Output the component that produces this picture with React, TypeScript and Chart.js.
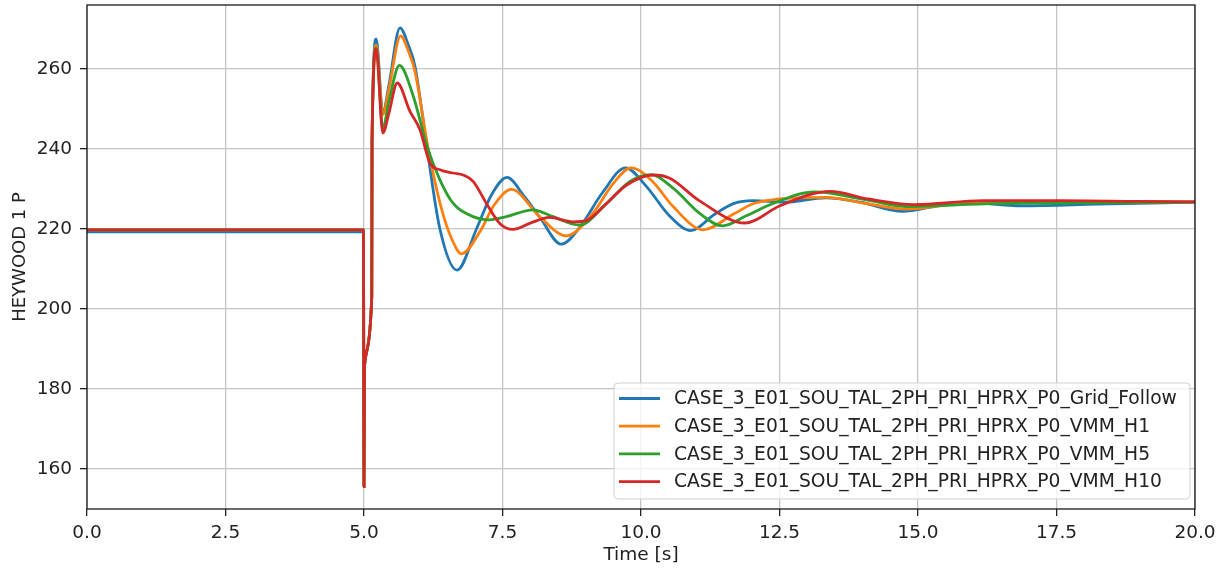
import React, { useEffect, useRef } from "react";
import { Chart, registerables } from "chart.js";

Chart.register(...registerables);

// ---- data ----
const seriesLabels = [
  "CASE_3_E01_SOU_TAL_2PH_PRI_HPRX_P0_Grid_Follow",
  "CASE_3_E01_SOU_TAL_2PH_PRI_HPRX_P0_VMM_H1",
  "CASE_3_E01_SOU_TAL_2PH_PRI_HPRX_P0_VMM_H5",
  "CASE_3_E01_SOU_TAL_2PH_PRI_HPRX_P0_VMM_H10",
];
const seriesColors = ["#1f77b4", "#ff7f0e", "#2ca02c", "#d62728"];

const tGridFollow = [0, 4.99, 5.0, 5.01, 5.14, 5.145, 5.22, 5.34, 5.45, 5.65, 5.8, 5.92, 6.14, 6.37, 6.68, 7.03, 7.3, 7.58, 7.9, 8.17, 8.56, 8.9, 9.3, 9.72, 10.1, 10.5, 10.9, 11.33, 11.68, 12.02, 12.58, 13.34, 13.96, 14.72, 15.35, 15.83, 16.87, 18.25, 20.0];
const pGridFollow = [219.3, 219.3, 155.6, 186, 203, 242, 267.5, 249, 256, 270.3, 266, 260.7, 240, 220, 209.7, 220, 228.5, 232.9, 228, 223, 216.2, 220.5, 229, 235.3, 230.6, 223.5, 219.6, 223.7, 226.4, 227.1, 226.7, 227.8, 226.7, 224.4, 225.8, 226.7, 225.8, 226.2, 226.7];

const tVmmH1 = [0, 4.99, 5.0, 5.01, 5.14, 5.145, 5.22, 5.34, 5.45, 5.66, 5.8, 5.92, 6.16, 6.4, 6.6, 6.76, 7.1, 7.35, 7.66, 8.17, 8.65, 9.13, 9.5, 9.82, 10.2, 10.58, 11.12, 11.68, 12.02, 12.37, 13.34, 14.1, 14.79, 15.83, 17.56, 20.0];
const pVmmH1 = [219.8, 219.8, 155.6, 186, 203, 242, 266, 248.6, 255, 268.3, 264.5, 259.4, 240, 225, 217, 213.8, 219.5, 226, 229.9, 223.1, 218.3, 223.9, 231.4, 235.3, 232, 225.6, 219.8, 223.8, 226.3, 227.3, 227.9, 226.3, 225.0, 226.4, 226.7, 226.8];

const tVmmH5 = [0, 4.99, 5.0, 5.01, 5.14, 5.145, 5.22, 5.34, 5.45, 5.64, 5.89, 6.14, 6.37, 6.61, 6.97, 7.27, 7.57, 8.05, 8.41, 8.89, 9.38, 9.8, 10.18, 10.58, 11.06, 11.47, 11.9, 12.37, 13.13, 14.0, 14.79, 15.5, 16.18, 17.5, 19.0, 20.0];
const pVmmH5 = [219.8, 219.8, 155.6, 186, 203, 242, 265.3, 245.2, 252, 260.9, 253.2, 240.6, 232.3, 226.4, 223.1, 222.3, 223.1, 224.8, 223.1, 221.0, 226.4, 231.9, 233.6, 230.2, 223.9, 220.8, 223.3, 226.3, 229.3, 227.5, 225.6, 225.9, 226.3, 226.5, 226.6, 226.7];

const tVmmH10 = [0, 4.99, 5.0, 5.01, 5.14, 5.145, 5.22, 5.34, 5.45, 5.6, 5.83, 6.01, 6.19, 6.37, 6.61, 6.79, 6.97, 7.21, 7.45, 7.69, 7.99, 8.35, 8.77, 9.01, 9.38, 9.74, 10.22, 10.52, 11.05, 11.88, 12.51, 13.41, 14.1, 14.93, 16.18, 17.56, 19.0, 20.0];
const pVmmH10 = [219.8, 219.8, 155.6, 186, 203, 242, 265, 244, 249, 256.5, 249.4, 244.8, 236.5, 234.8, 234.0, 233.5, 231.9, 226.4, 221.4, 219.9, 221.4, 222.9, 221.8, 222.1, 226.4, 231.0, 233.5, 232.7, 227.1, 221.5, 225.8, 229.4, 227.5, 226.1, 227.1, 227.1, 226.9, 226.8];

const xTickValues = [0, 2.5, 5, 7.5, 10, 12.5, 15, 17.5, 20];
const yTickValues = [160, 180, 200, 220, 240, 260];
const xAxisTitle = "Time [s]";
const yAxisTitle = "HEYWOOD 1 P";

const seriesTimes = [tGridFollow, tVmmH1, tVmmH5, tVmmH10];
const seriesValues = [pGridFollow, pVmmH1, pVmmH5, pVmmH10];

const FONT = "'DejaVu Sans', sans-serif";
const TEXT = "#222222";

const framePlugin = {
  id: "frameAndLegend",
  afterDraw(chart: any) {
    const { ctx, chartArea } = chart;
    ctx.save();
    // axes frame (spines)
    ctx.strokeStyle = "#1a1a1a";
    ctx.lineWidth = 1.3;
    ctx.strokeRect(chartArea.left, chartArea.top, chartArea.right - chartArea.left, chartArea.bottom - chartArea.top);

    // legend box (lower right, inside axes)
    const bx = 614, by = 383, bw = 576, bh = 116, r = 4;
    ctx.beginPath();
    ctx.moveTo(bx + r, by);
    ctx.lineTo(bx + bw - r, by);
    ctx.quadraticCurveTo(bx + bw, by, bx + bw, by + r);
    ctx.lineTo(bx + bw, by + bh - r);
    ctx.quadraticCurveTo(bx + bw, by + bh, bx + bw - r, by + bh);
    ctx.lineTo(bx + r, by + bh);
    ctx.quadraticCurveTo(bx, by + bh, bx, by + bh - r);
    ctx.lineTo(bx, by + r);
    ctx.quadraticCurveTo(bx, by, bx + r, by);
    ctx.closePath();
    ctx.fillStyle = "rgba(255,255,255,0.8)";
    ctx.fill();
    ctx.strokeStyle = "#d0d0d0";
    ctx.lineWidth = 1;
    ctx.stroke();

    ctx.font = `18.7px ${FONT}`;
    ctx.textBaseline = "middle";
    ctx.textAlign = "left";
    chart.data.datasets.forEach((ds: any, i: number) => {
      const y = 398.5 + i * 27.7;
      ctx.strokeStyle = ds.borderColor;
      ctx.lineWidth = 2.8;
      ctx.beginPath();
      ctx.moveTo(619, y);
      ctx.lineTo(660, y);
      ctx.stroke();
      ctx.fillStyle = TEXT;
      ctx.fillText(ds.label, 674, y + 1);
    });
    ctx.restore();
  },
};

export default function App() {
  const ref = useRef<HTMLCanvasElement>(null);

  useEffect(() => {
    if (!ref.current) return;
    const datasets = seriesLabels.map((label, i) => ({
      label,
      data: seriesTimes[i].map((t, j) => ({ x: t, y: seriesValues[i][j] })),
      borderColor: seriesColors[i],
      backgroundColor: seriesColors[i],
      borderWidth: 2.8,
      pointRadius: 0,
      fill: false,
      cubicInterpolationMode: "monotone" as const,
      order: seriesLabels.length - 1 - i,
    }));

    const chart = new Chart(ref.current, {
      type: "line",
      data: { datasets },
      options: {
        animation: false,
        responsive: false,
        maintainAspectRatio: false,
        layout: { padding: { top: 5, right: 33, left: 0, bottom: 0 } },
        plugins: {
          legend: { display: false },
          tooltip: { enabled: false },
        },
        scales: {
          x: {
            type: "linear",
            min: 0,
            max: 20,
            afterBuildTicks: (s: any) => {
              s.ticks = xTickValues.map((v) => ({ value: v }));
            },
            afterFit: (s: any) => {
              s.height = 61;
              s.paddingLeft = 0;
              s.paddingRight = 0;
            },
            ticks: {
              callback: (v: any) => Number(v).toFixed(1),
              font: { family: FONT, size: 18.5 },
              color: TEXT,
              padding: 6,
              maxRotation: 0,
              autoSkip: false,
            },
            grid: {
              color: "#c4c4c4",
              lineWidth: 1.3,
              drawTicks: true,
              tickLength: 7,
              tickColor: "#222",
              tickWidth: 1.3,
            },
            border: { display: false },
            title: {
              display: true,
              text: xAxisTitle,
              font: { family: FONT, size: 18.5 },
              color: TEXT,
              padding: { top: 0, bottom: 4 },
            },
          },
          y: {
            type: "linear",
            min: 150,
            max: 276,
            afterBuildTicks: (s: any) => {
              s.ticks = yTickValues.map((v) => ({ value: v }));
            },
            afterFit: (s: any) => {
              s.width = 87;
              s.paddingTop = 0;
              s.paddingBottom = 0;
            },
            ticks: {
              font: { family: FONT, size: 18.5 },
              color: TEXT,
              padding: 8,
            },
            grid: {
              color: "#c4c4c4",
              lineWidth: 1.3,
              drawTicks: true,
              tickLength: 7,
              tickColor: "#222",
              tickWidth: 1.3,
            },
            border: { display: false },
            title: {
              display: true,
              text: yAxisTitle,
              font: { family: FONT, size: 18 },
              color: TEXT,
              padding: { top: 10, bottom: 0 },
            },
          },
        },
      },
      plugins: [framePlugin],
    });
    return () => chart.destroy();
  }, []);

  return (
    <div style={{ position: "fixed", left: 0, top: 0, width: 1228, height: 570, background: "#fff" }}>
      <canvas ref={ref} width={1228} height={570} style={{ width: 1228, height: 570, display: "block" }} />
    </div>
  );
}
